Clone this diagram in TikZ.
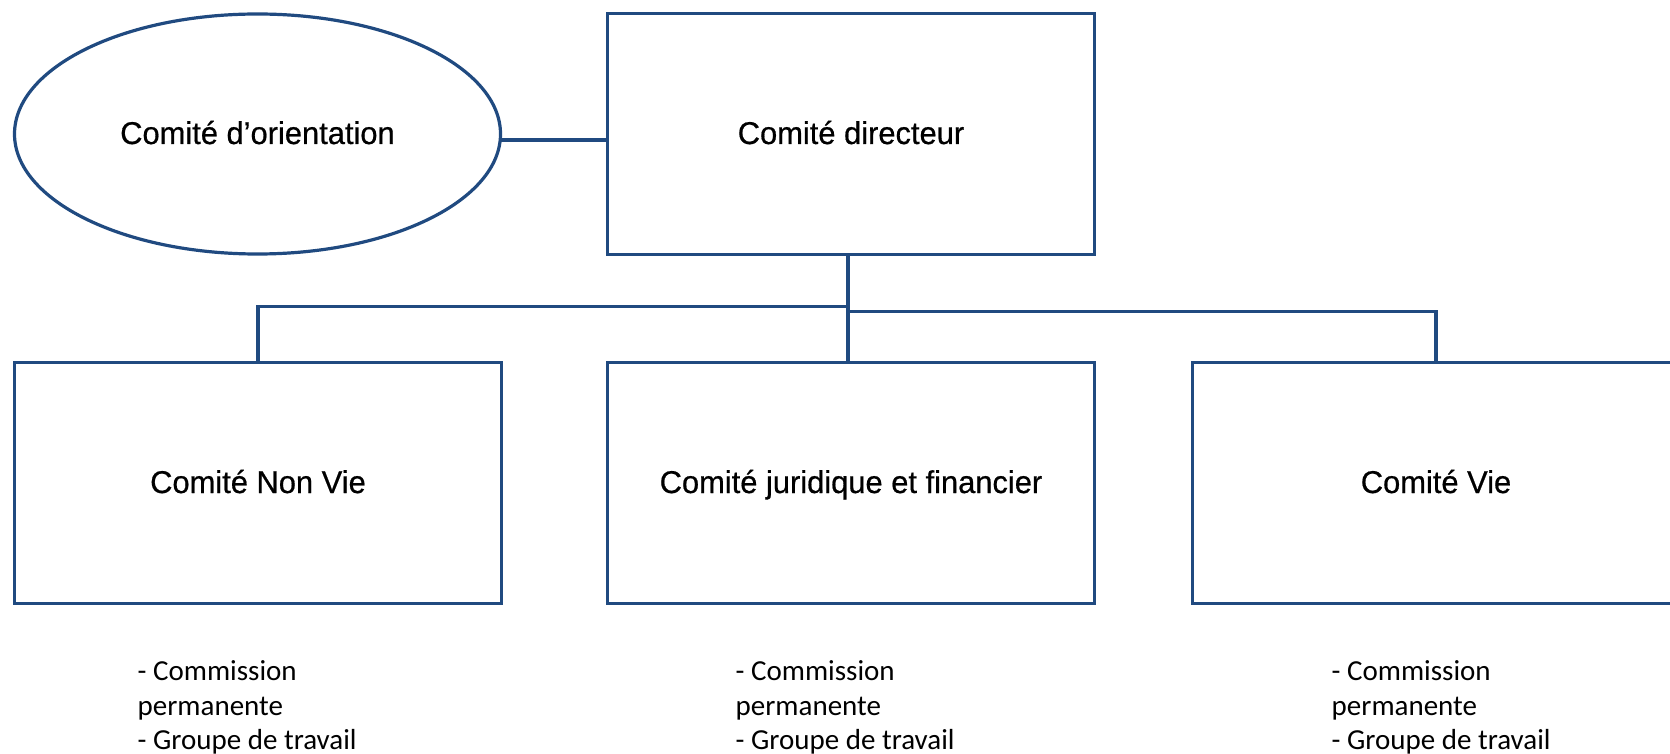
\documentclass[tikz,border=0pt]{standalone}
\usepackage{fontspec}
\setmainfont{Liberation Sans}[FakeStretch=0.98, FakeBold=0.6]
\newfontfamily\listfont{Carlito}
\usetikzlibrary{positioning, shapes.geometric}
\definecolor{orgblue}{HTML}{204A80}

\begin{document}
\begin{tikzpicture}[x=1pt, y=-1pt,
    box/.style={draw=orgblue, line width=3.2pt, rectangle, minimum width=487pt, minimum height=241pt, inner sep=0pt, outer sep=0pt, text height=25pt, text depth=5pt, font=\fontsize{31.5}{37}\selectfont},
    oval/.style={draw=orgblue, line width=3.2pt, ellipse, minimum width=486pt, minimum height=240pt, inner sep=0pt, outer sep=0pt, text height=25pt, text depth=5pt, font=\fontsize{31.5}{37}\selectfont},
    link/.style={draw=orgblue, line width=3.2pt},
    tasks/.style={align=left, inner sep=0pt, font=\listfont\fontsize{29}{34.5}\selectfont}]
  \clip (0,0) rectangle (1670,754);

  \node[box] (dir) at (851,134) {Comité directeur};
  \node[oval, left =107pt of dir] (orient) {Comité d’orientation};
  \node[box, below =108pt of dir] (juri) {Comité juridique et financier};
  \node[box, left =106pt of juri] (nonvie) {Comité Non Vie};
  \node[box, right =98pt of juri] (vie) {Comité Vie};

  \node[tasks, below right=57pt and 123pt of nonvie.south west] (tnonvie) {- Commission\\permanente\\- Groupe de travail};
  \node[tasks, below right=57pt and 128pt of juri.south west] (tjuri) {- Commission\\permanente\\- Groupe de travail};
  \node[tasks, below right=57pt and 139pt of vie.south west] (tvie) {- Commission\\permanente\\- Groupe de travail};

  \draw[link] ([yshift=-6pt]orient.east) -- ([yshift=-6pt]dir.west);
  \draw[link] ([xshift=-3pt]dir.south) -- ([xshift=-3pt]juri.north);
  \draw[link] (nonvie.north) |- ([xshift=-3pt, yshift=-52pt]dir.south);
  \draw[link] (vie.north) |- ([xshift=-3pt, yshift=-57pt]dir.south);
\end{tikzpicture}
\end{document}
